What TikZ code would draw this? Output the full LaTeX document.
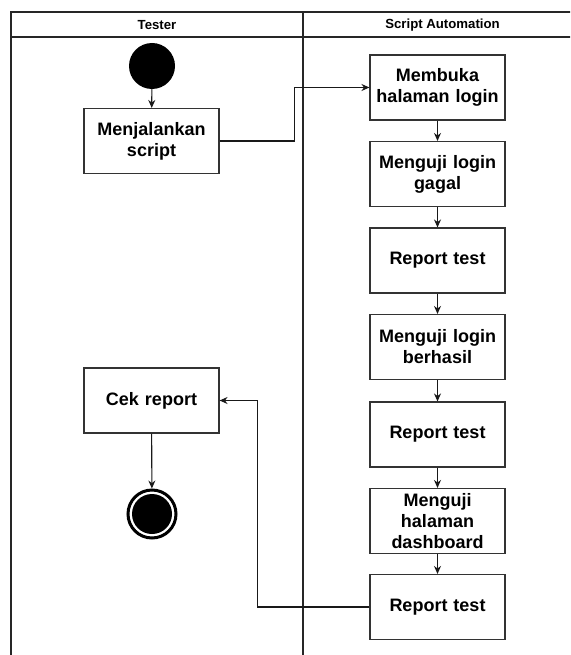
\documentclass[tikz,border=0pt]{standalone}
\usepackage{fontspec}
\setmainfont{Liberation Sans}
\usetikzlibrary{arrows.meta}
\begin{document}
\begin{tikzpicture}[x=1pt,y=-1pt,
  lane/.style={draw=black!85, line width=1.2pt},
  act/.style={draw=black!80, line width=1.1pt, minimum width=135pt, minimum height=65pt, inner sep=2pt, align=center, font=\fontsize{18}{21}\selectfont\bfseries, text width=130pt},
  hdr/.style={font=\fontsize{13.2}{14}\selectfont\bfseries},
  flow/.style={draw=black!90, line width=1.1pt, -{Stealth[length=8pt,width=7pt]}}]
\useasboundingbox (0,0) rectangle (570,655);
\begin{scope}
\clip (0,0) rectangle (570,655);
\draw[lane] (11,700) -- (11,12) -- (600,12);
\draw[lane] (11,37) -- (600,37);
\draw[lane] (303,12) -- (303,700);
\end{scope}
\node[hdr] (h1) at (157,25) {Tester};
\node[hdr] (h2) at (442.5,25) {Script Automation};

\node[circle, fill=black, minimum size=46pt, inner sep=0pt] (start) at (152,66) {};
\node[act] (menj) at (151.5,141) {Menjalankan\\script};
\node[act] (cek) at (151.5,400.5) {Cek report};
\node[circle, draw=black, line width=3pt, fill=white, minimum size=48pt, inner sep=0pt] (end) at (152,514) {};
\node[circle, fill=black, minimum size=40pt, inner sep=0pt] (endin) at (152,514) {};

\node[act] (buka) at (437.5,87.5) {Membuka\\halaman login};
\node[act] (gagal) at (437.5,174) {Menguji login\\gagal};
\node[act] (rep1) at (437.5,260.5) {Report test};
\node[act] (hasil) at (437.5,347) {Menguji login\\berhasil};
\node[act] (rep2) at (437.5,434.5) {Report test};
\node[act] (dash) at (437.5,521) {Menguji\\halaman\\dashboard};
\node[act] (rep3) at (437.5,607) {Report test};

\draw[flow] (start) -- (menj);
\draw[flow] (menj.east) -- ++(75,0) |- (buka.west);
\draw[flow] (buka) -- (gagal);
\draw[flow] (gagal) -- (rep1);
\draw[flow] (rep1) -- (hasil);
\draw[flow] (hasil) -- (rep2);
\draw[flow] (rep2) -- (dash);
\draw[flow] (dash) -- (rep3);
\draw[flow] (rep3.west) -- ++(-112,0) |- (cek.east);
\draw[flow] (cek) -- (end);
\end{tikzpicture}
\end{document}
